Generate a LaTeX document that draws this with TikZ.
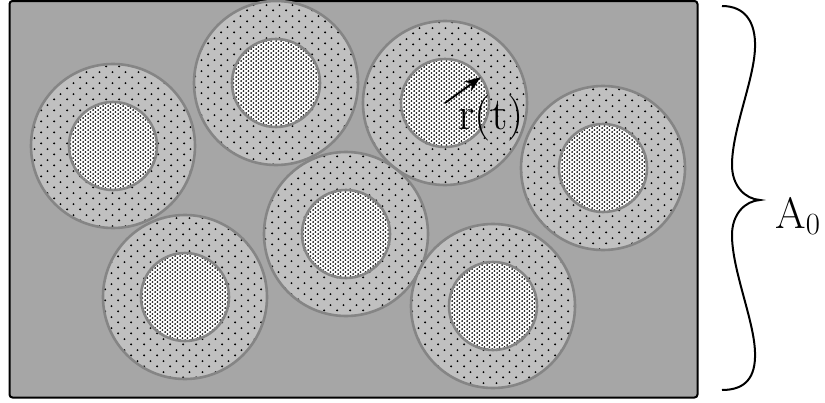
\documentclass[tikz,border=0pt]{standalone}
\usepackage{fontspec}
\usepackage{tikz}
\usetikzlibrary{arrows.meta,patterns}

\definecolor{matrixgray}{HTML}{A6A6A6}
\definecolor{shellgray}{HTML}{C0C0C0}
\definecolor{rimgray}{HTML}{858585}

\pgfdeclarepatternformonly{coredots}{\pgfpointorigin}{\pgfpoint{2.4pt}{2.2pt}}{\pgfpoint{2.4pt}{2.2pt}}{%
  \pgfpathcircle{\pgfpoint{0.6pt}{0.55pt}}{0.5pt}%
  \pgfpathcircle{\pgfpoint{1.8pt}{1.65pt}}{0.5pt}%
  \pgfusepath{fill}}
\pgfdeclarepatternformonly{shelldots}{\pgfpointorigin}{\pgfpoint{6.4pt}{5.6pt}}{\pgfpoint{6.4pt}{5.6pt}}{%
  \pgfpathcircle{\pgfpoint{1.6pt}{1.4pt}}{0.55pt}%
  \pgfpathcircle{\pgfpoint{4.8pt}{4.2pt}}{0.55pt}%
  \pgfusepath{fill}}

\begin{document}
\begin{tikzpicture}[x=0.5pt,y=-0.5pt,>=Stealth]
  \tikzstyle{shell}=[circle,draw=rimgray,line width=1.3pt,minimum size=82pt,inner sep=0pt,outer sep=0pt,
    preaction={fill=shellgray},pattern=shelldots,pattern color=black]
  \tikzstyle{core}=[circle,draw=rimgray,line width=1.3pt,minimum size=44pt,inner sep=0pt,outer sep=0pt,
    preaction={fill=white},pattern=coredots,pattern color=black]
  \useasboundingbox (0,0) rectangle (825,402);
  % matrix region
  \draw[fill=matrixgray,line width=1pt,rounded corners=1.5pt] (9.5,1) rectangle (697.5,397.5);
  % grains: shells
  \node[shell] (p1) at (113,146) {};
  \node[shell] (p2) at (276,83) {};
  \node[shell] (p3) at (445,103) {};
  \node[shell] (p4) at (603,168) {};
  \node[shell] (p5) at (185,297) {};
  \node[shell] (p6) at (346,234) {};
  \node[shell] (p7) at (493,306) {};
  % grains: cores
  \node[core] (p1core) at (p1) {};
  \node[core] (p2core) at (p2) {};
  \node[core] (p3core) at (p3) {};
  \node[core] (p4core) at (p4) {};
  \node[core] (p5core) at (p5) {};
  \node[core] (p6core) at (p6) {};
  \node[core] (p7core) at (p7) {};
  % radius
  \draw[-{Stealth[length=8pt,width=6pt]},line width=0.9pt] (p3core.center) -- (p3core.36);
  \node[font=\fontsize{23}{27}\selectfont] (rlabel) at (491,118) {r(t)};
  % brace
  \coordinate (bracetop) at (722,6);
  \coordinate (bracetip) at (760,200);
  \coordinate (bracebot) at (722,390);
  \draw[line width=1pt] (bracetop) .. controls (745,6) and (756,22) .. (755,48)
    .. controls (754,80) and (732,130) .. (732,165)
    .. controls (732,186) and (745,199) .. (bracetip)
    .. controls (745,201) and (732,214) .. (732,235)
    .. controls (732,270) and (754,320) .. (755,352)
    .. controls (756,378) and (745,390) .. (bracebot);
  \node[anchor=base west,font=\fontsize{22}{26}\selectfont,inner sep=0pt] (area) at (775,228) {A\textsubscript{0}};
\end{tikzpicture}
\end{document}
